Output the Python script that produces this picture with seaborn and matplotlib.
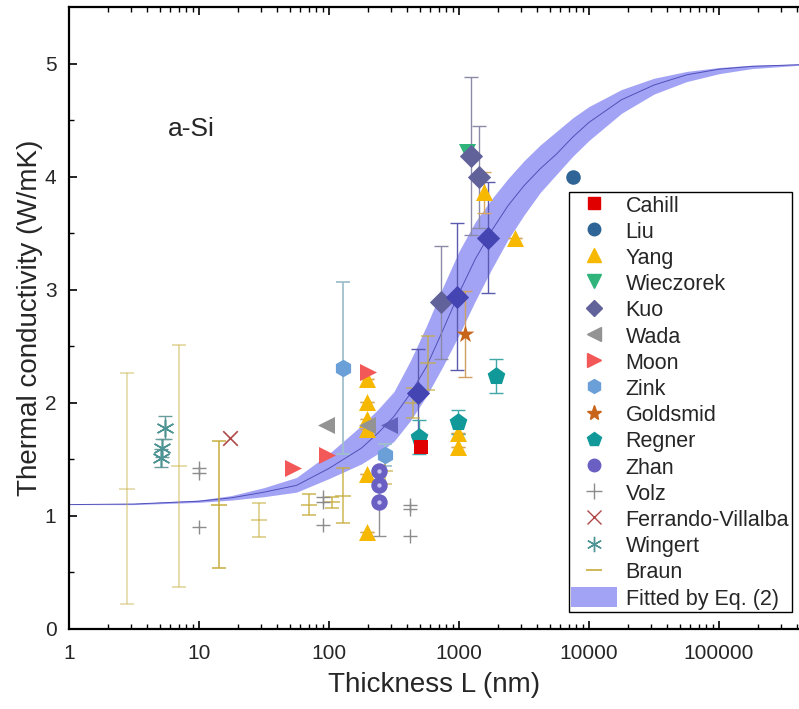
import numpy as np
import pandas as pd
import matplotlib
matplotlib.use("Agg")
import matplotlib.pyplot as plt
from matplotlib.lines import Line2D
from matplotlib.patches import Patch
import seaborn as sns

# fitted band (log10 of thickness, conductivity)
fit_logL = [0.0, 0.5, 1.0, 1.25, 1.5, 1.75, 2.0, 2.25, 2.375, 2.5, 2.625, 2.75, 2.875,
            3.0, 3.125, 3.25, 3.375, 3.5, 3.625, 3.75, 3.875, 4.0, 4.25, 4.5, 4.75, 5.0, 5.25, 5.62]
fit_mid = [1.100, 1.105, 1.130, 1.160, 1.210, 1.270, 1.420, 1.600, 1.730, 1.880, 2.080, 2.320, 2.640,
           2.970, 3.270, 3.520, 3.740, 3.920, 4.070, 4.200, 4.350, 4.480, 4.680, 4.810, 4.900, 4.950, 4.975, 4.990]
fit_hi = [1.100, 1.110, 1.140, 1.180, 1.250, 1.340, 1.550, 1.800, 1.940, 2.100, 2.370, 2.680, 3.020,
          3.340, 3.600, 3.800, 3.980, 4.140, 4.280, 4.400, 4.520, 4.620, 4.770, 4.870, 4.930, 4.965, 4.985, 4.995]
fit_lo = [1.100, 1.100, 1.120, 1.140, 1.170, 1.210, 1.330, 1.460, 1.550, 1.660, 1.840, 2.060, 2.320,
          2.600, 2.900, 3.180, 3.440, 3.660, 3.860, 4.020, 4.180, 4.320, 4.560, 4.730, 4.840, 4.910, 4.955, 4.985]

cahill_L = [510]
cahill_k = [1.61]
liu_L = [7500]
liu_k = [4.00]
yang_L = [197, 197, 197, 197, 197, 197, 980, 980, 1557, 2690]
yang_k = [2.21, 2.01, 1.86, 1.77, 1.37, 0.86, 1.73, 1.61, 3.86, 3.46]
yang_err = [0, 0, 0, 0, 0, 0, 0, 0, 0.18, 0]
wiec_L = [1160]
wiec_k = [4.22]
kuo_L = [727, 1231, 1433]
kuo_k = [2.89, 4.18, 4.00]
kuo_err = [0.50, 0.70, 0.45]
kuo2_L = [486, 970, 1683]
kuo2_k = [2.09, 2.94, 3.46]
kuo2_err = [0.39, 0.65, 0.49]
wada_L = [95, 195]
wada_k = [1.80, 1.80]
wada2_L = [290]
wada2_k = [1.80]
moon_L = [53, 96, 200]
moon_k = [1.42, 1.54, 2.27]
zink_L = [129, 270]
zink_k = [2.31, 1.54]
zink_err = [0.76, 0.10]
gold_L = [1112]
gold_k = [2.61]
gold_err = [0.38]
regner_L = [492, 977, 1927]
regner_k = [1.70, 1.83, 2.24]
regner_err = [0.15, 0.11, 0.15]
zhan_L = [244, 244, 244]
zhan_k = [1.40, 1.27, 1.12]
zhan_err = [0, 0, 0.30]
volz_L = [10, 10, 10, 90, 90, 90, 420, 420, 420]
volz_k = [1.42, 1.38, 0.90, 1.17, 1.12, 0.92, 1.10, 1.06, 0.82]
ferr_L = [17.3]
ferr_k = [1.69]
wing_L = [5.5, 5.2, 5.1]
wing_k = [1.78, 1.60, 1.51]
wing_err = [0.10, 0.08, 0.08]
braun_L = [2.8, 7.0, 14.2, 28.8, 70, 106, 129, 270, 445, 575]
braun_k = [1.24, 1.44, 1.10, 0.96, 1.10, 1.12, 1.18, 1.40, 2.00, 2.35]
braun_err = [1.02, 1.07, 0.56, 0.15, 0.09, 0.05, 0.24, 0.12, 0.13, 0.24]
braun_alpha = [0.45, 0.5, 0.9, 0.6, 0.8, 0.8, 0.8, 0.7, 0.7, 0.7]

sns.set_theme(style="ticks")
plt.rcParams["font.family"] = ["Liberation Sans", "DejaVu Sans"]

fig = plt.figure(figsize=(7.99, 7.09), dpi=100)
ax = fig.add_axes([69 / 799, 80 / 709, 730 / 799, 622 / 709])

# band
fitL = 10 ** np.array(fit_logL)
ax.fill_between(fitL, fit_lo, fit_hi, color="#a3a3f6", lw=0, zorder=1)
sns.lineplot(x=fitL, y=fit_mid, ax=ax, color="#5050b8", lw=0.7, zorder=2, legend=False)

# error bars
def ebar(L, k, e, color, alpha=1.0, lw=1.0):
    ax.errorbar(L, k, yerr=e, fmt="none", ecolor=color, elinewidth=lw,
                capsize=5, capthick=lw, alpha=alpha, zorder=3)

ebar(kuo_L, kuo_k, kuo_err, "#8a8aa8")
ebar(kuo2_L, kuo2_k, kuo2_err, "#5a5ab0")
ebar(yang_L, yang_k, yang_err, "#d8a860")
ebar(zink_L, zink_k, zink_err, "#9fbfcc", lw=1.3)
ebar(gold_L, gold_k, gold_err, "#d0a060")
ebar(regner_L, regner_k, regner_err, "#40a8a8")
ebar(zhan_L, zhan_k, zhan_err, "#909090")
ebar(wing_L, wing_k, wing_err, "#6a9c9c")
for L, k, e, a in zip(braun_L, braun_k, braun_err, braun_alpha):
    ax.errorbar([L], [k], yerr=[e], fmt="_", color="#c6ac3a", ms=12, mew=1.2,
                elinewidth=1.2, capsize=5, capthick=1.2, alpha=a, zorder=3)

# markers
def pts(L, k, marker, color, s, alpha=1.0, lw=0, z=4):
    sns.scatterplot(x=L, y=k, ax=ax, marker=marker, color=color, s=s,
                    alpha=alpha, linewidth=lw, edgecolor=color, zorder=z, legend=False)

pts(volz_L, volz_k, "+", "#8c8c8c", 110, lw=1.0)
pts(ferr_L, ferr_k, "x", "#b04848", 110, lw=1.2)
pts(wing_L, wing_k, (6, 2, 0), "#4e9494", 150, lw=1.1)
pts(yang_L, yang_k, "^", "#f6b800", 150)
pts(wada_L, wada_k, "<", "#939393", 150)
pts(wada2_L, wada2_k, "<", "#5c5cb8", 150, alpha=0.9)
pts(moon_L, moon_k, ">", "#f25858", 150)
pts(zink_L, zink_k, "h", "#6a9fd8", 160)
pts(gold_L, gold_k, "*", "#c8641a", 180)
pts(regner_L, regner_k, "p", "#11999a", 180)
pts(cahill_L, cahill_k, "s", "#e00000", 100)
pts(liu_L, liu_k, "o", "#2e6496", 110)
pts(wiec_L, wiec_k, "v", "#2fb57c", 150)
pts(kuo_L, kuo_k, "D", "#62629a", 140, z=5)
pts(kuo2_L, kuo2_k, "D", "#4444b2", 140, z=5)
pts(zhan_L, zhan_k, "o", "#6a5fc2", 140, z=5)
pts(zhan_L, zhan_k, "o", "#c9c4f0", 10, z=6)

ax.set_xscale("log")
ax.set_xlim(1, 10 ** (730 / 130))
ax.set_ylim(0, 5.5)
ax.set_yticks([0, 1, 2, 3, 4, 5])
ax.set_yticks([0.5, 1.5, 2.5, 3.5, 4.5], minor=True)
xt = [1, 10, 100, 1000, 10000, 100000]
ax.set_xticks(xt)
ax.set_xticklabels([str(v) for v in xt])
ax.tick_params(which="both", direction="in", top=True, right=False, labelsize=15, color="black")
ax.tick_params(which="major", length=6, width=1.2)
ax.tick_params(which="minor", length=3.5, width=1.0)
ax.tick_params(axis="y", pad=9)
ax.tick_params(axis="x", pad=11)
for side in ["left", "bottom", "top"]:
    ax.spines[side].set_linewidth(1.6)
    ax.spines[side].set_color("black")
ax.spines["right"].set_visible(False)

ax.set_xlabel("Thickness L (nm)", fontsize=20, labelpad=6)
ax.set_ylabel("Thermal conductivity (W/mK)", fontsize=20, labelpad=1)
ax.text(0.135, 0.792, "a-Si", transform=ax.transAxes, fontsize=19)

handles = [
    Line2D([], [], ls="", marker="s", color="#e00000", ms=9),
    Line2D([], [], ls="", marker="o", color="#2e6496", ms=9),
    Line2D([], [], ls="", marker="^", color="#f6b800", ms=10),
    Line2D([], [], ls="", marker="v", color="#2fb57c", ms=10),
    Line2D([], [], ls="", marker="D", color="#62629a", ms=8),
    Line2D([], [], ls="", marker="<", color="#939393", ms=10),
    Line2D([], [], ls="", marker=">", color="#f25858", ms=10),
    Line2D([], [], ls="", marker="h", color="#6a9fd8", ms=10),
    Line2D([], [], ls="", marker="*", color="#c8641a", ms=11),
    Line2D([], [], ls="", marker="p", color="#11999a", ms=10),
    Line2D([], [], ls="", marker="o", color="#6a5fc2", ms=9),
    Line2D([], [], ls="", marker="+", color="#8c8c8c", ms=11, mew=1),
    Line2D([], [], ls="", marker="x", color="#b04848", ms=10, mew=1),
    Line2D([], [], ls="", marker=(6, 2, 0), color="#4e9494", ms=11, mew=1),
    Line2D([], [], ls="", marker="_", color="#c6ac3a", ms=11, mew=1.2),
    Patch(facecolor="#a3a3f6", edgecolor="none"),
]
labels = ["Cahill", "Liu", "Yang", "Wieczorek", "Kuo", "Wada", "Moon", "Zink",
          "Goldsmid", "Regner", "Zhan", "Volz", "Ferrando-Villalba", "Wingert",
          "Braun", "Fitted by Eq. (2)"]
leg = ax.legend(handles, labels, loc="lower right", bbox_to_anchor=(0.99, 0.027),
                fontsize=15.5, frameon=True, fancybox=False, edgecolor="black",
                framealpha=1, borderpad=0.12, labelspacing=0.18, handlelength=2.15,
                handleheight=1.05, handletextpad=0.38, borderaxespad=0)
leg.get_frame().set_linewidth(1.0)

fig.savefig("out.png", dpi=100)
